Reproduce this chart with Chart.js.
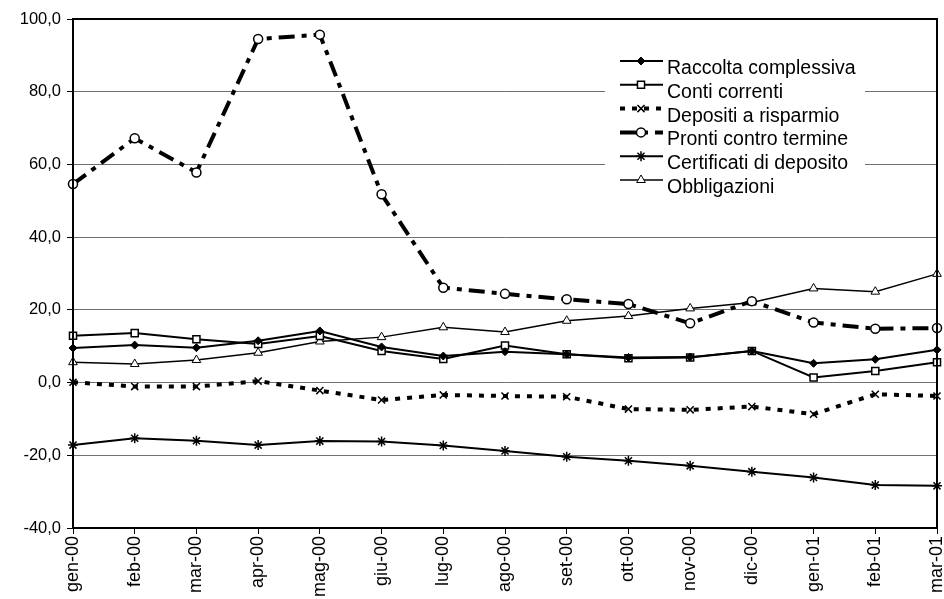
<!DOCTYPE html>
<html>
<head>
<meta charset="utf-8">
<script src="https://cdn.jsdelivr.net/npm/chart.js@4/dist/chart.umd.min.js"></script>
<style>
  html, body { margin: 0; padding: 0; background: #fff; }
  #wrap { width: 944px; height: 599px; }
</style>
</head>
<body>
<div id="wrap"><canvas id="raccoltaChart" width="944" height="599"></canvas></div>
<script>
// months on the x axis
const months = ['gen-00', 'feb-00', 'mar-00', 'apr-00', 'mag-00', 'giu-00', 'lug-00', 'ago-00',
                'set-00', 'ott-00', 'nov-00', 'dic-00', 'gen-01', 'feb-01', 'mar-01'];

// series values (variazioni %)
const raccoltaComplessiva = [9.5, 10.3, 9.6, 11.5, 14.2, 9.8, 7.3, 8.5, 7.8, 6.9, 7.0, 8.7, 5.3, 6.4, 9.0];
const contiCorrenti       = [12.9, 13.6, 11.9, 10.6, 12.8, 8.7, 6.5, 10.2, 7.8, 6.7, 6.9, 8.7, 1.4, 3.2, 5.6];
const depositiRisparmio   = [0.1, -1.1, -1.1, 0.4, -2.2, -4.8, -3.4, -3.7, -3.9, -7.3, -7.5, -6.6, -8.7, -3.2, -3.7];
const prontiTermine       = [54.6, 67.2, 57.8, 94.5, 95.7, 51.8, 26.1, 24.4, 22.9, 21.6, 16.3, 22.4, 16.5, 14.8, 15.0];
const certificatiDeposito = [-17.2, -15.3, -16.0, -17.2, -16.1, -16.2, -17.3, -18.8, -20.4, -21.5, -22.9, -24.5, -26.1, -28.2, -28.4];
const obbligazioni        = [5.6, 5.1, 6.2, 8.2, 11.3, 12.5, 15.2, 13.9, 17.0, 18.3, 20.4, 22.0, 25.9, 25.0, 29.9];

// y axis range and step
const yMin = -40, yMax = 100, yStep = 20;

Chart.defaults.font.family = '"Liberation Sans", Arial, sans-serif';
Chart.defaults.color = '#000';

// legend drawn inside the plot, on a white box
const insideLegend = {
    id: 'insideLegend',
    afterDraw(chart) {
        const ctx = chart.ctx;
        const area = chart.chartArea;
        ctx.save();
        // frame round the plot
        ctx.strokeStyle = '#000';
        ctx.lineWidth = 2;
        ctx.strokeRect(area.left, area.top, area.right - area.left, area.bottom - area.top);

        ctx.fillStyle = '#fff';
        ctx.fillRect(605, 44, 260, 156);
        ctx.font = '19.5px "Liberation Sans", Arial, sans-serif';
        ctx.textBaseline = 'alphabetic';
        chart.data.datasets.forEach((ds, i) => {
            const y = 61 + i * 23.8;
            ctx.strokeStyle = '#000';
            ctx.lineWidth = ds.borderWidth;
            ctx.setLineDash(ds.borderDash || []);
            ctx.beginPath();
            ctx.moveTo(620, y);
            ctx.lineTo(663, y);
            ctx.stroke();
            ctx.setLineDash([]);
            ctx.fillStyle = ds.pointBackgroundColor;
            ctx.lineWidth = ds.pointBorderWidth;
            Chart.helpers.drawPoint(ctx, {
                pointStyle: ds.pointStyle,
                radius: ds.pointRadius,
                borderWidth: ds.pointBorderWidth,
                rotation: 0
            }, 641, y);
            ctx.fillStyle = '#000';
            ctx.fillText(ds.label, 667, y + 13);
        });
        ctx.restore();
    }
};

const ctx = document.getElementById('raccoltaChart').getContext('2d');

new Chart(ctx, {
    type: 'line',
    data: {
        labels: months,
        datasets: [
            {
                label: 'Raccolta complessiva',
                data: raccoltaComplessiva,
                borderColor: '#000',
                borderWidth: 2,
                pointStyle: 'rectRot',
                pointRadius: 4,
                pointBackgroundColor: '#000',
                pointBorderColor: '#000',
                pointBorderWidth: 1
            },
            {
                label: 'Conti correnti',
                data: contiCorrenti,
                borderColor: '#000',
                borderWidth: 2,
                pointStyle: 'rect',
                pointRadius: 5,
                pointBackgroundColor: '#fff',
                pointBorderColor: '#000',
                pointBorderWidth: 1.5
            },
            {
                label: 'Depositi a risparmio',
                data: depositiRisparmio,
                borderColor: '#000',
                borderWidth: 4,
                borderDash: [5, 7],
                pointStyle: 'crossRot',
                pointRadius: 5,
                pointBackgroundColor: '#fff',
                pointBorderColor: '#000',
                pointBorderWidth: 1.5
            },
            {
                label: 'Pronti contro termine',
                data: prontiTermine,
                borderColor: '#000',
                borderWidth: 4,
                borderDash: [16, 7, 5, 7],
                pointStyle: 'circle',
                pointRadius: 4.5,
                pointBackgroundColor: '#fff',
                pointBorderColor: '#000',
                pointBorderWidth: 1.5
            },
            {
                label: 'Certificati di deposito',
                data: certificatiDeposito,
                borderColor: '#000',
                borderWidth: 2,
                pointStyle: 'star',
                pointRadius: 5,
                pointBackgroundColor: '#000',
                pointBorderColor: '#000',
                pointBorderWidth: 1.5
            },
            {
                label: 'Obbligazioni',
                data: obbligazioni,
                borderColor: '#000',
                borderWidth: 1.5,
                pointStyle: 'triangle',
                pointRadius: 5,
                pointBackgroundColor: '#fff',
                pointBorderColor: '#000',
                pointBorderWidth: 1
            }
        ]
    },
    options: {
        responsive: false,
        animation: false,
        clip: false,
        layout: { padding: { top: 19, right: 7, left: 0, bottom: 0 } },
        elements: { line: { tension: 0, fill: false } },
        plugins: {
            legend: { display: false },
            tooltip: { enabled: false }
        },
        scales: {
            x: {
                offset: false,
                afterFit: s => { s.height = 71; s.paddingLeft = 0; s.paddingRight = 0; },
                border: { color: '#000', width: 2 },
                grid: { drawOnChartArea: false, drawTicks: true, tickLength: 6, color: '#000' },
                ticks: { minRotation: 90, maxRotation: 90, padding: 2, font: { size: 18 }, autoSkip: false }
            },
            y: {
                min: yMin,
                max: yMax,
                afterFit: s => { s.width = 73; s.paddingTop = 0; s.paddingBottom = 0; },
                border: { color: '#000', width: 2 },
                grid: { color: '#707070', lineWidth: 1, tickLength: 6, tickColor: '#000' },
                ticks: {
                    stepSize: yStep,
                    padding: 6,
                    font: { size: 16.5 },
                    callback: v => v.toFixed(1).replace('.', ',')
                }
            }
        }
    },
    plugins: [insideLegend]
});
</script>
</body>
</html>
